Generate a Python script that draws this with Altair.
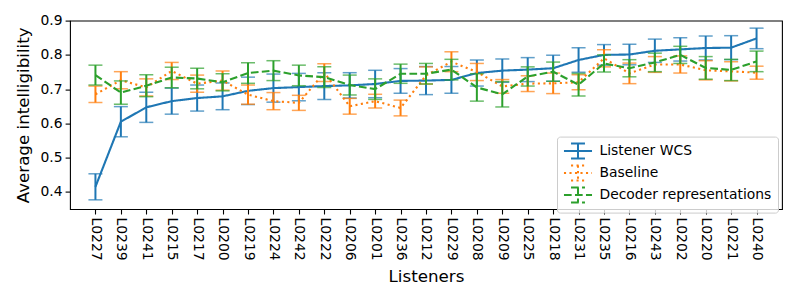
import altair as alt
import pandas as pd

listeners = ["L0227", "L0239", "L0241", "L0215", "L0217", "L0200", "L0219", "L0224", "L0242",
             "L0222", "L0206", "L0201", "L0236", "L0212", "L0229", "L0208", "L0209", "L0225",
             "L0218", "L0231", "L0235", "L0216", "L0243", "L0202", "L0220", "L0221", "L0240"]

series_names = ["Listener WCS", "Baseline", "Decoder representations"]

wcs_mean = [0.415, 0.605, 0.647, 0.665, 0.674, 0.679, 0.695, 0.703, 0.706, 0.709, 0.711, 0.715, 0.724,
            0.725, 0.727, 0.747, 0.754, 0.757, 0.761, 0.785, 0.800, 0.801, 0.812, 0.816, 0.820, 0.821, 0.848]
wcs_err = [0.038, 0.044, 0.044, 0.038, 0.038, 0.039, 0.040, 0.041, 0.040, 0.039, 0.037, 0.040, 0.036,
           0.041, 0.039, 0.038, 0.034, 0.035, 0.038, 0.036, 0.030, 0.030, 0.034, 0.034, 0.035, 0.035, 0.030]

base_mean = [0.685, 0.726, 0.705, 0.753, 0.716, 0.725, 0.684, 0.665, 0.660, 0.748, 0.650, 0.665, 0.645,
             0.740, 0.780, 0.750, 0.708, 0.716, 0.717, 0.720, 0.790, 0.746, 0.772, 0.772, 0.755, 0.752, 0.748]
base_err = [0.024, 0.025, 0.025, 0.025, 0.025, 0.028, 0.028, 0.025, 0.022, 0.026, 0.023, 0.020, 0.023,
            0.025, 0.029, 0.025, 0.020, 0.023, 0.030, 0.022, 0.025, 0.030, 0.023, 0.025, 0.028, 0.028, 0.019]

dec_mean = [0.741, 0.690, 0.710, 0.734, 0.731, 0.720, 0.747, 0.754, 0.740, 0.735, 0.712, 0.700, 0.745,
            0.745, 0.757, 0.705, 0.685, 0.737, 0.751, 0.713, 0.775, 0.761, 0.778, 0.800, 0.762, 0.756, 0.781]
dec_err = [0.029, 0.034, 0.032, 0.030, 0.030, 0.025, 0.030, 0.029, 0.030, 0.030, 0.029, 0.030, 0.028,
           0.030, 0.030, 0.040, 0.037, 0.028, 0.028, 0.033, 0.025, 0.025, 0.027, 0.025, 0.033, 0.031, 0.030]

y_ticks = [0.4, 0.5, 0.6, 0.7, 0.8, 0.9]

rows = []
for name, means, errs in zip(series_names, [wcs_mean, base_mean, dec_mean], [wcs_err, base_err, dec_err]):
    for l, m, e in zip(listeners, means, errs):
        rows.append({"series": name, "listener": l, "mean": m, "lo": m - e, "hi": m + e})
df = pd.DataFrame(rows)

colors = ["#1f77b4", "#ff7f0e", "#2ca02c"]
dashes = [[1, 0], [2.1, 3.4], [7.7, 3.3]]

FONT = "DejaVu Sans"

x_enc = alt.X("listener:N", sort=listeners,
              scale=alt.Scale(type="point", padding=1.3),
              axis=alt.Axis(title="Listeners", labelAngle=90, titlePadding=8))
y_scale = alt.Scale(domain=[0.35, 0.9], nice=False, zero=False)
y_axis = alt.Axis(title="Average intelligibility", values=y_ticks, format=".1f", titlePadding=8)

color_enc = alt.Color("series:N", scale=alt.Scale(domain=series_names, range=colors),
                      legend=alt.Legend(title=None))
dash_enc = alt.StrokeDash("series:N", scale=alt.Scale(domain=series_names, range=dashes),
                          legend=alt.Legend(title=None))

base = alt.Chart(df)
layers = []
for name, c in zip(series_names, colors):
    sub = base.transform_filter(alt.datum.series == name)
    layers.append(sub.mark_rule(color=c, strokeWidth=2).encode(
        x=x_enc, y=alt.Y("lo:Q", scale=y_scale, axis=y_axis), y2="hi:Q"))
    layers.append(sub.mark_tick(color=c, size=14, thickness=1.5, orient="horizontal").encode(
        x=x_enc, y=alt.Y("lo:Q", scale=y_scale, axis=y_axis)))
    layers.append(sub.mark_tick(color=c, size=14, thickness=1.5, orient="horizontal").encode(
        x=x_enc, y=alt.Y("hi:Q", scale=y_scale, axis=y_axis)))
    layers.append(sub.mark_line(strokeWidth=2.1).encode(
        x=x_enc, y=alt.Y("mean:Q", scale=y_scale, axis=y_axis),
        color=color_enc, strokeDash=dash_enc))

chart = alt.layer(*layers).properties(
    width=712, height=188.5,
    autosize=alt.AutoSizeParams(type="none"),
    padding={"left": 62, "top": 12.6, "right": 10, "bottom": 80},
).configure_view(
    stroke="black", strokeWidth=1.1
).configure_axis(
    grid=False, domain=False,
    labelFont=FONT, labelFontSize=13.9, labelColor="black",
    titleFont=FONT, titleFontSize=16.7, titleFontWeight="normal", titleColor="black",
    tickColor="black", tickSize=4.9, tickWidth=1.1, labelPadding=3,
).configure_legend(
    orient="none", legendX=487, legendY=116,
    strokeColor="#cccccc", fillColor="rgba(255,255,255,0.8)", cornerRadius=3,
    padding=6, labelFont=FONT, labelFontSize=13.9, labelColor="black", labelLimit=400,
    symbolType="M-1.87,0L1.87,0M0,-1L0,1M-0.93,-1L0.93,-1M-0.93,1L0.93,1",
    symbolSize=225, symbolStrokeWidth=2, symbolOffset=6.5, rowPadding=-1, labelOffset=13,
)

chart.save("out.html", embed_options={"renderer": "svg", "actions": False})
